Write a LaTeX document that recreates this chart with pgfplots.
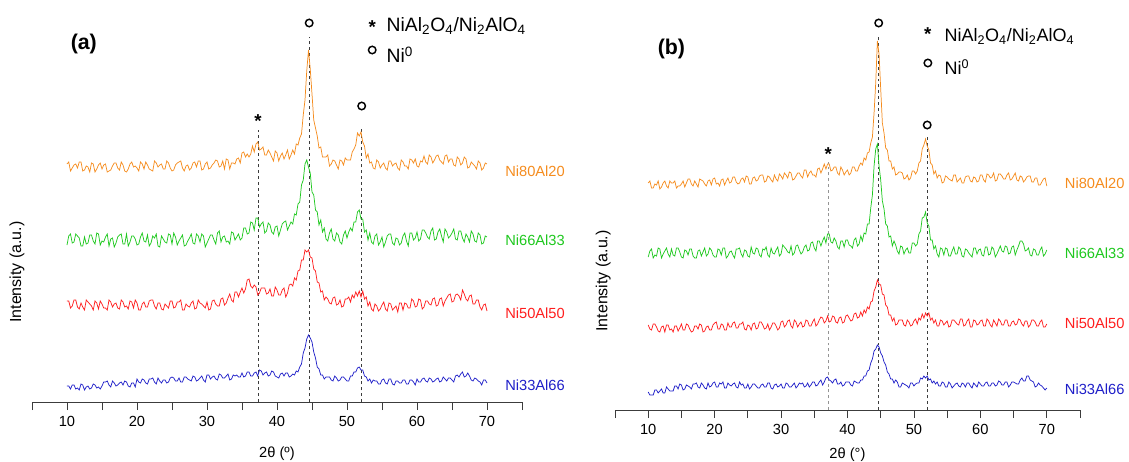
\documentclass[border=0pt]{standalone}
\usepackage{fontspec}
\setmainfont{Liberation Sans}
\usepackage{pgfplots}
\pgfplotsset{compat=1.18}
\usepackage{pgfplotstable}
\definecolor{cO}{RGB}{245,140,30}
\definecolor{cG}{RGB}{30,200,30}
\definecolor{cR}{RGB}{255,30,30}
\definecolor{cB}{RGB}{30,30,200}
\definecolor{cAx}{RGB}{60,60,60}

\pgfplotstableread{
x o g r b
10.0 297 216 160 75
10.25 299 225 160 75
10.5 290 227 153 72
10.75 293 218 155 76
11.0 296 219 161 76
11.25 297 227 161 72
11.5 293 225 154 73
11.75 299 223 152 71
12.0 299 215 158 77
12.25 290 215 154 76
12.5 291 224 151 71
12.75 295 217 161 74
13.0 294 218 159 75
13.25 289 226 157 72
13.5 298 226 155 73
13.75 297 220 151 77
14.0 289 217 160 76
14.25 292 228 158 73
14.5 296 227 152 74
14.75 298 216 160 72
15.0 292 220 157 75
15.25 296 219 153 79
15.5 297 224 153 79
15.75 289 227 151 80
16.0 290 215 161 76
16.25 291 222 159 74
16.5 295 223 154 80
16.75 298 214 157 78
17.0 298 218 158 75
17.25 293 224 153 76
17.5 291 226 152 78
17.75 299 227 161 79
18.0 296 217 159 76
18.25 290 217 154 80
18.5 289 227 155 79
18.75 292 215 152 75
19.0 297 219 160 74
19.25 299 225 159 78
19.5 294 225 153 78
19.75 295 222 161 74
20.0 293 216 158 82
20.25 290 217 151 79
20.5 299 224 151 78
20.75 297 228 157 82
21.0 292 220 159 81
21.25 299 219 154 78
21.5 296 226 154 77
21.75 292 215 160 82
22.0 291 218 161 82
22.25 290 225 161 83
22.5 300 223 155 79
22.75 298 227 152 77
23.0 294 215 158 83
23.25 296 214 158 80
23.5 297 225 152 78
23.75 292 222 151 81
24.0 292 219 157 81
24.25 300 218 155 78
24.5 298 227 153 79
24.75 293 226 160 83
25.0 290 217 160 84
25.25 291 228 153 83
25.5 296 224 154 80
25.75 298 216 159 80
26.0 299 220 159 83
26.25 300 223 161 79
26.5 293 226 151 79
26.75 290 215 151 84
27.0 295 216 157 84
27.25 296 220 155 82
27.5 291 223 154 81
27.75 293 227 158 80
28.0 298 218 160 85
28.25 299 217 152 84
28.5 294 227 153 80
28.75 300 225 161 81
29.0 300 219 158 83
29.25 291 227 157 85
29.5 292 225 155 81
29.75 297 214 153 79
30.0 299 218 159 86
30.25 292 222 151 86
30.5 293 226 152 82
30.75 296 226 160 84
31.0 298 221 161 85
31.25 301 217 157 82
31.5 300 228 155 81
31.75 294 230 155 87
32.0 295 219 162 86
32.25 300 224 163 83
32.5 292 225 156 83
32.75 302 219 158 85
33.0 301 220 163 87
33.25 292 217 167 81
33.5 298 229 161 82
33.75 298 228 159 86
34.0 297 221 169 85
34.25 302 224 169 86
34.5 303 227 164 84
34.75 298 221 169 84
35.0 308 223 173 88
35.25 309 233 168 84
35.5 304 233 172 85
35.75 307 227 181 89
36.0 304 228 182 89
36.25 307 239 175 85
36.5 315 238 173 85
36.75 309 231 176 88
37.0 317 243 174 89
37.25 319 243 166 85
37.5 311 234 168 91
37.75 312 237 173 90
38.0 314 239 173 86
38.25 306 228 173 88
38.5 306 230 167 89
38.75 311 238 168 85
39.0 308 236 172 86
39.25 304 229 165 90
39.5 300 227 165 89
39.75 310 234 174 85
40.0 308 235 171 84
40.25 300 225 166 83
40.5 305 231 166 87
40.75 308 237 171 88
41.0 302 239 173 85
41.25 306 240 164 88
41.5 311 231 168 88
41.75 302 235 176 84
42.0 306 239 177 85
42.25 311 237 175 87
42.5 307 247 183 86
42.75 317 246 181 90
43.0 316 257 190 89
43.25 323 259 191 94
43.5 327 276 201 97
43.75 346 281 201 108
44.0 361 297 211 113
44.25 390 301 209 122
44.5 411 294 211 126
44.75 392 288 204 123
45.0 367 269 203 119
45.25 341 266 192 109
45.5 333 251 190 103
45.75 325 249 179 94
46.0 313 236 178 92
46.25 314 241 169 86
46.5 304 229 170 86
46.75 304 233 161 82
47.0 304 222 164 84
47.25 306 220 162 84
47.5 295 228 158 84
47.75 297 232 157 81
48.0 301 222 163 80
48.25 300 220 164 85
48.5 296 228 156 83
48.75 292 226 157 80
49.0 301 219 161 81
49.25 300 217 154 84
49.5 296 226 155 84
49.75 303 230 162 82
50.0 301 223 162 80
50.25 301 229 164 80
50.5 301 233 159 85
50.75 309 230 166 85
51.0 312 239 163 89
51.25 316 239 169 89
51.5 328 249 165 93
51.75 325 251 170 94
52.0 329 242 164 91
52.25 319 242 170 91
52.5 315 229 162 85
52.75 303 231 164 84
53.0 307 221 155 80
53.25 298 228 159 82
53.5 299 219 152 78
53.75 293 217 150 81
54.0 292 225 157 80
54.25 301 227 155 80
54.5 299 216 150 77
54.75 293 219 152 77
55.0 296 224 156 81
55.25 298 214 159 82
55.5 293 219 152 78
55.75 291 225 150 77
56.0 300 227 158 82
56.25 300 227 157 82
56.5 295 218 151 77
56.75 297 216 153 76
57.0 298 223 155 80
57.25 293 222 149 80
57.5 291 216 158 78
57.75 301 218 158 78
58.0 299 225 151 81
58.25 295 228 158 81
58.5 295 220 157 77
58.75 292 215 153 77
59.0 302 228 153 81
59.25 301 228 162 81
59.5 298 221 160 79
59.75 302 223 154 76
60.0 295 229 155 82
60.25 294 220 162 79
60.5 300 222 161 79
60.75 299 231 152 82
61.0 305 231 154 83
61.25 299 228 160 80
61.5 297 224 160 79
61.75 306 222 157 83
62.0 304 230 156 82
62.25 298 233 162 79
62.5 301 221 163 80
62.75 305 222 155 82
63.0 306 229 156 83
63.25 301 232 162 79
63.5 299 225 163 80
63.75 297 219 155 84
64.0 305 232 160 82
64.25 306 229 163 80
64.5 299 223 166 83
64.75 302 225 167 83
65.0 302 228 159 81
65.25 296 232 160 79
65.5 295 222 166 85
65.75 304 221 167 86
66.0 302 230 165 84
66.25 296 230 161 87
66.5 298 223 171 89
66.75 304 219 167 84
67.0 302 227 162 85
67.25 293 224 160 88
67.5 294 219 165 85
67.75 299 230 166 81
68.0 297 227 157 80
68.25 295 220 157 83
68.5 292 219 161 82
68.75 300 228 161 80
69.0 298 226 154 79
69.25 291 217 151 76
69.5 293 218 156 81
69.75 298 225 157 81
70.0 297 224 150 78
}\tabA

\pgfplotstableread{
x o g r b
10.0 278 204 136 69
10.25 280 210 132 66
10.5 273 212 131 66
10.75 273 203 137 66
11.0 277 206 137 71
11.25 276 205 134 71
11.5 280 213 130 68
11.75 272 212 129 70
12.0 274 203 134 72
12.25 278 207 135 68
12.5 280 210 129 68
12.75 275 213 136 74
13.0 273 207 136 72
13.25 280 204 131 70
13.5 278 212 132 70
13.75 278 206 129 70
14.0 280 205 135 75
14.25 273 213 135 75
14.5 275 213 130 72
14.75 275 209 133 77
15.0 277 204 137 76
15.25 280 203 131 71
15.5 274 211 131 72
15.75 278 210 137 76
16.0 282 206 136 75
16.25 282 212 132 74
16.5 277 212 129 72
16.75 275 205 130 77
17.0 280 203 135 77
17.25 277 203 135 78
17.5 274 210 132 74
17.75 282 211 137 73
18.0 281 205 136 78
18.25 280 209 129 76
18.5 277 213 130 73
18.75 275 205 134 72
19.0 280 207 135 78
19.25 281 213 131 74
19.5 276 211 131 75
19.75 282 206 136 78
20.0 283 204 138 79
20.25 277 204 139 74
20.5 278 212 132 74
20.75 275 211 132 78
21.0 281 206 137 77
21.25 282 213 136 79
21.5 276 213 131 73
21.75 280 203 131 73
22.0 283 205 138 78
22.25 278 209 134 76
22.5 279 210 134 75
22.75 284 206 138 77
23.0 284 203 139 78
23.25 279 212 133 74
23.5 277 212 133 73
23.75 278 213 137 79
24.0 282 207 137 76
24.25 283 204 139 77
24.5 279 211 132 73
24.75 285 210 131 73
25.0 284 205 136 77
25.25 277 204 135 72
25.5 277 214 131 74
25.75 283 208 137 77
26.0 284 207 138 77
26.25 280 213 132 75
26.5 281 212 133 73
26.75 285 206 139 73
27.0 286 204 139 76
27.25 286 212 136 77
27.5 279 211 132 74
27.75 280 214 133 74
28.0 285 206 137 78
28.25 284 204 131 78
28.5 281 213 134 73
28.75 279 208 138 72
29.0 286 207 138 76
29.25 282 211 135 77
29.5 280 214 131 74
29.75 287 205 133 75
30.0 285 207 139 77
30.25 282 216 140 73
30.5 288 214 134 73
30.75 286 212 136 78
31.0 283 209 140 77
31.25 289 208 141 74
31.5 288 215 135 74
31.75 281 206 133 76
32.0 282 208 141 78
32.25 285 215 139 73
32.5 288 216 134 75
32.75 288 211 137 78
33.0 285 207 139 77
33.25 283 209 134 78
33.5 291 214 135 74
33.75 291 216 141 75
34.0 284 210 140 78
34.25 288 211 135 74
34.5 290 218 135 76
34.75 286 219 139 79
35.0 286 213 142 79
35.25 284 210 135 75
35.5 292 220 137 76
35.75 293 220 141 79
36.0 288 215 144 81
36.25 292 220 143 76
36.5 297 224 138 79
36.75 292 218 140 83
37.0 297 227 145 84
37.25 297 227 139 81
37.5 290 219 140 80
37.75 291 218 145 78
38.0 294 223 144 81
38.25 294 220 139 82
38.5 288 214 138 77
38.75 286 212 143 77
39.0 294 220 144 79
39.25 291 220 138 75
39.5 286 214 139 76
39.75 289 221 145 79
40.0 291 221 146 79
40.25 286 216 143 79
40.5 288 215 140 76
40.75 294 213 141 75
41.0 294 221 147 80
41.25 290 223 148 79
41.5 290 215 143 78
41.75 295 217 144 78
42.0 298 225 149 81
42.25 296 220 145 81
42.5 303 228 151 85
42.75 301 227 148 85
43.0 308 237 154 90
43.25 309 237 152 91
43.5 318 253 159 98
43.75 324 266 160 102
44.0 348 295 170 110
44.25 378 312 174 112
44.5 420 317 181 116
44.75 407 295 177 114
45.0 372 281 176 108
45.25 338 260 167 105
45.5 328 252 166 99
45.75 313 237 156 96
46.0 311 235 154 89
46.25 300 224 146 87
46.5 300 225 146 82
46.75 292 215 140 82
47.0 294 220 143 78
47.25 286 216 136 81
47.5 287 210 137 79
47.75 289 207 141 74
48.0 289 215 141 74
48.25 288 214 141 78
48.5 282 207 136 77
48.75 283 211 135 76
49.0 286 213 141 75
49.25 281 208 139 73
49.5 283 208 135 78
49.75 290 218 136 78
50.0 290 218 140 75
50.25 287 215 142 77
50.5 290 217 137 78
50.75 298 227 143 78
51.0 300 230 141 83
51.25 312 243 147 82
51.5 316 244 143 85
51.75 322 249 148 83
52.0 315 238 145 85
52.25 311 235 148 81
52.5 298 221 141 82
52.75 296 221 143 78
53.0 287 212 138 80
53.25 290 215 141 77
53.5 283 207 135 79
53.75 286 204 135 75
54.0 285 213 141 75
54.25 278 212 140 79
54.5 279 206 136 78
54.75 285 213 138 74
55.0 284 212 140 74
55.25 282 205 134 79
55.5 281 205 135 77
55.75 280 210 141 73
56.0 286 214 141 75
56.25 286 207 139 77
56.5 279 207 137 78
56.75 281 214 136 75
57.0 283 212 142 74
57.25 278 205 142 78
57.5 278 204 135 77
57.75 284 212 136 74
58.0 285 211 140 78
58.25 285 208 142 78
58.5 280 206 134 75
58.75 279 204 134 73
59.0 284 213 141 78
59.25 283 213 140 76
59.5 279 207 136 74
59.75 280 211 137 79
60.0 286 212 140 77
60.25 286 206 141 75
60.5 281 205 135 75
60.75 279 214 135 78
61.0 287 214 142 79
61.25 286 206 140 75
61.5 283 207 136 75
61.75 284 214 134 78
62.0 288 212 141 78
62.25 280 204 138 75
62.5 281 207 135 76
62.75 287 211 142 80
63.0 287 215 140 79
63.25 285 210 136 76
63.5 282 209 136 76
63.75 282 215 141 79
64.0 286 214 141 79
64.25 288 207 135 74
64.5 281 208 135 76
64.75 282 214 139 79
65.0 285 215 140 79
65.25 288 206 136 78
65.5 281 211 137 77
65.75 280 215 142 77
66.0 285 220 141 81
66.25 284 220 137 83
66.5 279 217 135 80
66.75 281 210 140 80
67.0 284 211 140 85
67.25 285 213 134 85
67.5 285 206 136 81
67.75 279 205 141 80
68.0 279 212 141 79
68.25 283 211 139 74
68.5 283 206 135 75
68.75 276 206 135 78
69.0 276 211 139 76
69.25 279 214 141 75
69.5 282 205 134 73
69.75 283 207 134 71
70.0 275 211 137 73
}\tabB

\pgfplotsset{xrdstyle/.style={
  scale only axis, clip=false,
  xmin=5, xmax=75,
  axis x line*=bottom, axis y line=none,
  xtick={10,20,...,70}, minor xtick={5,15,...,75},
  tick align=outside, major tick length=6pt, minor tick length=6pt,
  tick style={cAx, line width=0.6pt},
  axis line style={cAx, line width=0.75pt},
  xticklabel style={font=\fontsize{11}{13}\selectfont, text=black, yshift=-1.5pt},
  /pgf/number format/assume math mode=true,
  every axis plot/.append style={line width=0.55pt},
}}

\begin{document}
\begin{tikzpicture}
\useasboundingbox (0,0) rectangle (846.75pt,345.75pt);
% ---------------- panel (a)
\begin{axis}[xrdstyle, at={(24pt,44.25pt)}, anchor=south west,
  width=367.5pt, height=301.5pt, ymin=59, ymax=461]
\addplot[cAx, dash pattern=on 2.2pt off 2.2pt] coordinates {(37.3,59) (37.3,331)};
\addplot[cAx, dash pattern=on 2.2pt off 2.2pt] coordinates {(44.6,59) (44.6,424)};
\addplot[cAx, dash pattern=on 2.2pt off 2.2pt] coordinates {(52.1,59) (52.1,334)};
\addplot[cO] table[x=x,y=o]{\tabA};
\addplot[cG] table[x=x,y=g]{\tabA};
\addplot[cR] table[x=x,y=r]{\tabA};
\addplot[cB] table[x=x,y=b]{\tabA};
\addplot[only marks, mark=o, mark size=2.8pt, black, mark options={line width=1.1pt}]
  coordinates {(44.6,438) (52.1,355) (53.6,411)};
\node[font=\bfseries\fontsize{14}{14}\selectfont, yshift=-3pt] at (axis cs:37.3,344) {*};
\node[font=\bfseries\fontsize{14}{14}\selectfont, yshift=-3pt] at (axis cs:53.6,438) {*};
\node[anchor=base west, font=\fontsize{14.5}{16}\selectfont] at (axis cs:55.0,429)
  {NiAl\textsubscript{2}O\textsubscript{4}/Ni\textsubscript{2}AlO\textsubscript{4}};
\node[anchor=base west, font=\fontsize{14.5}{16}\selectfont] at (axis cs:55.0,398)
  {Ni\textsuperscript{0}};
\node[font=\bfseries\fontsize{16}{18}\selectfont] at (axis cs:12.4,417) {(a)};
\node[anchor=west, inner sep=0pt, text=cO, font=\fontsize{11}{13}\selectfont] at (axis cs:72.57,290) {Ni80Al20};
\node[anchor=west, inner sep=0pt, text=cG, font=\fontsize{11}{13}\selectfont] at (axis cs:72.57,221) {Ni66Al33};
\node[anchor=west, inner sep=0pt, text=cR, font=\fontsize{11}{13}\selectfont] at (axis cs:72.57,148) {Ni50Al50};
\node[anchor=west, inner sep=0pt, text=cB, font=\fontsize{11}{13}\selectfont] at (axis cs:72.57,76) {Ni33Al66};
\node[rotate=90, font=\fontsize{12}{14}\selectfont] at (axis cs:2.86,189) {Intensity (a.u.)};
\node[font=\fontsize{11}{13}\selectfont] at (axis cs:40,7) {2θ (º)};
\end{axis}
% ---------------- panel (b)
\begin{axis}[xrdstyle, at={(461.25pt,38.25pt)}, anchor=south west,
  width=348.75pt, height=307.5pt, ymin=51, ymax=461]
\addplot[cAx!55, dash pattern=on 2.2pt off 2.2pt] coordinates {(37.1,51) (37.1,299)};
\addplot[cAx, dash pattern=on 2.2pt off 2.2pt] coordinates {(44.7,51) (44.7,426)};
\addplot[cAx, dash pattern=on 2.2pt off 2.2pt] coordinates {(52.0,51) (52.0,324)};
\addplot[cO] table[x=x,y=o]{\tabB};
\addplot[cG] table[x=x,y=g]{\tabB};
\addplot[cR] table[x=x,y=r]{\tabB};
\addplot[cB] table[x=x,y=b]{\tabB};
\addplot[only marks, mark=o, mark size=2.8pt, black, mark options={line width=1.1pt}]
  coordinates {(44.7,438) (52.0,336) (52.1,398)};
\node[font=\bfseries\fontsize{14}{14}\selectfont, yshift=-3pt] at (axis cs:37.1,311) {*};
\node[font=\bfseries\fontsize{14}{14}\selectfont, yshift=-3pt] at (axis cs:52.1,431) {*};
\node[anchor=base west, font=\fontsize{13.5}{15}\selectfont] at (axis cs:53.9,419)
  {NiAl\textsubscript{2}O\textsubscript{4}/Ni\textsubscript{2}AlO\textsubscript{4}};
\node[anchor=base west, font=\fontsize{13.5}{15}\selectfont] at (axis cs:53.9,386)
  {Ni\textsuperscript{0}};
\node[font=\bfseries\fontsize{16}{18}\selectfont] at (axis cs:13.5,412) {(b)};
\node[anchor=west, inner sep=0pt, text=cO, font=\fontsize{11}{13}\selectfont] at (axis cs:72.7,278) {Ni80Al20};
\node[anchor=west, inner sep=0pt, text=cG, font=\fontsize{11}{13}\selectfont] at (axis cs:72.7,208) {Ni66Al33};
\node[anchor=west, inner sep=0pt, text=cR, font=\fontsize{11}{13}\selectfont] at (axis cs:72.7,138) {Ni50Al50};
\node[anchor=west, inner sep=0pt, text=cB, font=\fontsize{11}{13}\selectfont] at (axis cs:72.7,72) {Ni33Al66};
\node[rotate=90, font=\fontsize{12}{14}\selectfont] at (axis cs:3.23,180) {Intensity (a.u.)};
\node[font=\fontsize{11}{13}\selectfont] at (axis cs:40,6) {2θ (°)};
\end{axis}
\end{tikzpicture}
\end{document}
